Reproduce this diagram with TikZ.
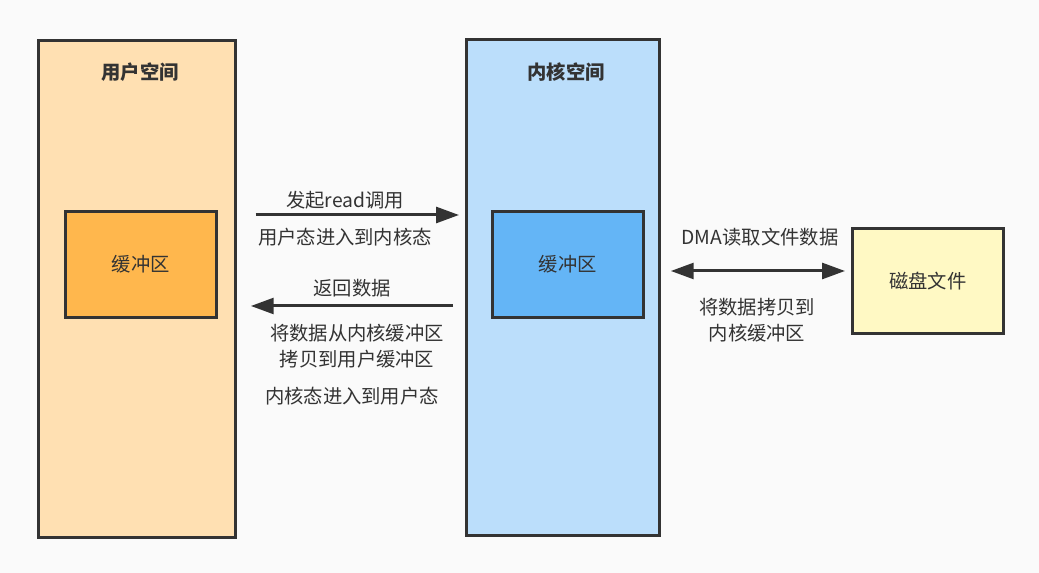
\documentclass[tikz,border=0pt]{standalone}
\usepackage{fontspec}
\setmainfont{Noto Sans CJK SC}
\usetikzlibrary{arrows.meta,positioning,calc}
\definecolor{ink}{HTML}{333333}
\definecolor{bgc}{HTML}{FAFAFA}
\definecolor{userc}{HTML}{FFE0B2}
\definecolor{ubufc}{HTML}{FFB74D}
\definecolor{kernc}{HTML}{BBDEFB}
\definecolor{kbufc}{HTML}{64B5F6}
\definecolor{diskc}{HTML}{FFF9C4}
\begin{document}
\begin{tikzpicture}[
  x=0.02cm, y=-0.02cm,
  font=\fontsize{11}{14}\selectfont, text=ink,
  area/.style={draw=ink, line width=1.6pt, inner sep=0pt, anchor=north west},
  buf/.style={area, minimum width=3.02cm, minimum height=2.12cm},
  arr/.style={-{Triangle[length=13pt, width=9pt]}, draw=ink, line width=1.7pt},
  darr/.style={{Triangle[length=13pt, width=9pt]}-{Triangle[length=13pt, width=9pt]}, draw=ink, line width=1.7pt},
  lbl/.style={align=center, text=ink}
]
\fill[bgc] (0,0) rectangle (1039,573);
\useasboundingbox (0,0) rectangle (1039,573);
% spaces
\node[area, fill=userc, minimum width=3.94cm, minimum height=9.94cm] (user) at (37,39) {};
\node[area, fill=kernc, minimum width=3.86cm, minimum height=9.92cm] (kernel) at (465,38) {};
\node[font=\fontsize{11}{14}\selectfont\bfseries] (utitle) at (140,72) {用户空间};
\node[font=\fontsize{11}{14}\selectfont\bfseries] (ktitle) at (566,72) {内核空间};
% buffers
\node[buf, fill=ubufc] (ubuf) at (64,210) {};
\node at (ubuf.center) {缓冲区};
\node[buf, fill=kbufc] (kbuf) at (491,210) {};
\node at (kbuf.center) {缓冲区};
\node[buf, fill=diskc, minimum height=2.1cm] (disk) at (851,227) {};
\node at (disk.center) {磁盘文件};
% connectors
\draw[arr, shorten <=10.8pt, shorten >=3.4pt] (user.east |- 0,215) -- (kernel.west |- 0,215);
\draw[arr, shorten <=6.8pt, shorten >=8pt] (kernel.west |- 0,306) -- (user.east |- 0,306);
\draw[darr, shorten <=5.7pt, shorten >=3.4pt] (kernel.east |- 0,271) -- (disk.west |- 0,271);
% labels
\node[lbl] (l1) at (345,200) {发起read调用};
\node[lbl] (l2) at (345,237) {用户态进入到内核态};
\node[lbl] (l3) at (352,288) {返回数据};
\node[lbl, font=\fontsize{11}{15}\selectfont] (l4) at (357,346) {将数据从内核缓冲区\\拷贝到用户缓冲区};
\node[lbl] (l5) at (352,396) {内核态进入到用户态};
\node[lbl] (l6) at (760,237) {DMA读取文件数据};
\node[lbl, font=\fontsize{11}{15}\selectfont] (l7) at (757,320) {将数据拷贝到\\内核缓冲区};
\end{tikzpicture}
\end{document}
